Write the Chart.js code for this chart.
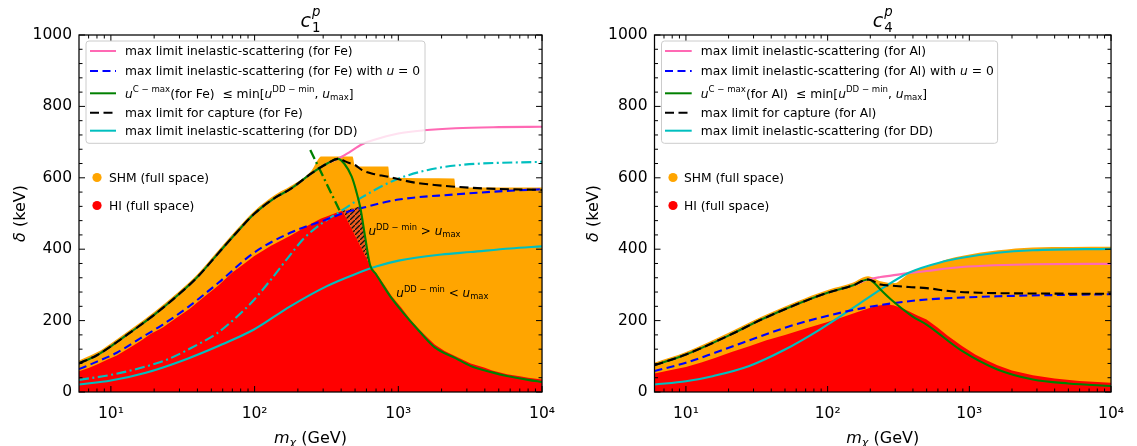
<!DOCTYPE html>
<html><head><meta charset="utf-8">
<script src="https://cdn.jsdelivr.net/npm/chart.js@4.4.1/dist/chart.umd.min.js"></script>
<style>
html,body{margin:0;padding:0;background:#fff;overflow:hidden}
#c1{position:absolute;left:0;top:0}
#c2{position:absolute;left:568px;top:0}
</style></head><body>
<canvas id="c1" width="568" height="446"></canvas>
<canvas id="c2" width="569" height="446"></canvas>
<script>
const FF = '"DejaVu Sans", sans-serif';

// ---------- axes ----------
const xTicks = [10, 100, 1000, 10000];
const yTicks = [0, 200, 400, 600, 800, 1000];
const xRange = [6, 10000];
const yRange = [0, 1000];
const yMinorStep = 40;
const xMinorMult = [2, 3, 4, 5, 6, 7, 8, 9];

// ---------- panel 1 : c1p (Fe) ----------  [m_chi (GeV), delta (keV)]
const fePink = [[6,80],[8,103],[10,128],[14,170],[20,216],[30,275],[40,322],[56,389],[75,447],[100,500],[140,545],[177,568],[250,613],[320,640],[380,653],[450,670],[560,694],[700,708],[1000,724],[1500,733],[2500,739],[5000,742],[10000,743]];
const feBlue = [[6,64],[8,85],[11,110],[16,150],[23,189],[35,240],[56,306],[99,390],[177,446],[316,483],[422,502],[564,516],[1005,539],[2400,553],[5000,562],[10000,568]];
const feGreen = [[6,80],[8,103],[10,128],[14,170],[20,216],[30,275],[40,322],[56,389],[75,447],[100,500],[140,545],[177,568],[250,613],[320,640],[380,653],[420,640],[474,603],[510,562],[545,515],[590,430],[636,356],[700,330],[765,305],[900,262],[1050,228],[1400,170],[1790,125],[2500,95],[3190,73],[4500,55],[5700,45],[8000,34],[10000,28]];
const feBlack = [[6,80],[8,103],[10,128],[14,170],[20,216],[30,275],[40,322],[56,389],[75,447],[100,500],[140,545],[177,568],[250,613],[320,640],[380,653],[450,642],[500,636],[557,622],[653,612],[851,603],[1052,594],[1374,585],[1790,580],[2466,575],[4000,570],[10000,566]];
const feCyan = [[6,21],[10,32],[17.5,54],[31,87],[56,129],[99,175],[177,240],[316,296],[500,330],[710,352],[1005,368],[2000,385],[3190,392],[6000,402],[10000,408]];
const feCyanDD = [[6,34],[10,48],[16,67],[25,92],[41,135],[55,165],[75,210],[100,260],[130,315],[170,375],[220,430],[300,475],[410,510],[557,545],[950,594],[1611,622],[2740,636],[10000,645]];
const feGreenDD = [[244,678],[394,505]];
const feSHM = [[6,88],[8,111],[10,136],[14,178],[20,224],[30,283],[40,330],[56,397],[75,455],[100,508],[140,553],[177,576],[250,621],[275,650],[290,660],[480,660],[500,632],[850,632],[870,600],[2450,598],[2500,573],[10000,573]];
const feHI = [[6,58],[7,67],[8,77],[9.5,91],[11,102],[13,120],[16,142],[19,163],[23,181],[28,205],[35,232],[44,265],[56,298],[70,335],[85,360],[99,380],[130,410],[177,438],[215,457],[251,473],[290,486],[327,494],[370,502],[410,508],[636,356],[680,340],[730,323],[800,300],[900,268],[1050,236],[1200,205],[1400,175],[1600,152],[1790,133],[2100,115],[2500,100],[3190,80],[4000,68],[4500,60],[5700,50],[7000,44],[8000,40],[10000,35]];
const feHatchTop = [[410,508],[480,514],[545,520],[590,430],[636,356]];
const feHatchBottom = [[410,508],[636,356]];

// ---------- panel 2 : c4p (Al) ----------
const alPink = [[6,75],[10,105],[20,158],[35,205],[60,245],[100,278],[150,298],[193,315],[236,322],[280,326],[374,333],[499,339],[888,350],[1500,355],[2806,358],[10000,359]];
const alBlue = [[6,59],[10,82],[16,110],[28,145],[50,180],[88,208],[157,231],[280,248],[499,259],[1578,268],[10000,274]];
const alGreen = [[6,75],[10,105],[20,158],[35,205],[60,245],[100,278],[150,298],[193,315],[210,308],[236,287],[280,259],[396,212],[499,189],[888,115],[1578,63],[2806,35],[5000,24],[10000,17]];
const alBlack = [[6,75],[10,105],[20,158],[35,205],[60,245],[100,278],[150,298],[193,315],[236,301],[280,298],[374,294],[499,291],[747,282],[1183,278],[2806,276],[10000,275]];
const alCyan = [[6,21],[10,30],[15.7,45],[28,73],[50,119],[88,175],[157,240],[236,287],[374,334],[666,366],[888,376],[1578,390],[2806,397],[10000,401]];
const alSHM = [[6,82],[10,112],[20,166],[35,213],[60,253],[100,286],[150,306],[193,324],[236,310],[300,305],[330,315],[400,340],[500,350],[700,372],[900,382],[1600,397],[2800,405],[10000,407]];
const alHI = [[6,52],[8,62],[10,70],[13,83],[16,95],[21,112],[28,128],[37,145],[50,160],[70,178],[100,196],[130,211],[157,222],[200,236],[230,242],[260,245],[290,243],[330,236],[374,226],[430,214],[499,203],[600,180],[700,158],[888,129],[1100,105],[1300,90],[1578,75],[2000,60],[2806,47],[4000,38],[6000,31],[10000,26]];

// ---------- colours ----------
const C = {pink:'#FF69B4', blue:'#0000FF', green:'#008000', black:'#000000', cyan:'#00BFBF', orange:'#FFA500', red:'#FF0000'};

// ---------- texts ----------
function legendTexts(el){
  return [
    [{t:'max limit inelastic-scattering (for '+el+')'}],
    [{t:'max limit inelastic-scattering (for '+el+') with '},{t:'u',i:1},{t:' = 0'}],
    [{t:'u',i:1},{t:'C − max',sup:1},{t:'(for '+el+')  ≤ min['},{t:'u',i:1},{t:'DD − min',sup:1},{t:', '},{t:'u',i:1},{t:'max',sub:1},{t:']'}],
    [{t:'max limit for capture (for '+el+')'}],
    [{t:'max limit inelastic-scattering (for DD)'}]
  ];
}
const legendStyles = [
  {color:C.pink, dash:[]},
  {color:C.blue, dash:[8,4.5]},
  {color:C.green, dash:[]},
  {color:C.black, dash:[9,4.5]},
  {color:C.cyan, dash:[]}
];
const scatterLabels = ['SHM (full space)', 'HI (full space)'];

// ---------- helpers ----------
const SUPD = {'0':'⁰','1':'¹','2':'²','3':'³','4':'⁴','5':'⁵'};
function expLabel(v){ const e = Math.round(Math.log10(v)); return '10' + String(e).split('').map(c=>SUPD[c]).join(''); }
function segFont(s, size){ const sz = (s.sup||s.sub) ? size*0.7 : size; return (s.i?'italic ':'') + sz + 'px ' + FF; }
function richWidth(ctx, segs, size){ let w=0; for(const s of segs){ ctx.font=segFont(s,size); w+=ctx.measureText(s.t).width; } return w; }
function drawRich(ctx, x, y, segs, size, align){
  const w = richWidth(ctx, segs, size);
  let cx = align==='center' ? x - w/2 : x;
  ctx.textAlign='left'; ctx.textBaseline='alphabetic'; ctx.fillStyle='#000';
  for(const s of segs){
    ctx.font = segFont(s,size);
    const dy = s.sup ? -size*0.42 : (s.sub ? size*0.2 : 0);
    ctx.fillText(s.t, cx, y+dy);
    cx += ctx.measureText(s.t).width;
  }
}
function drawTitle(ctx, cx, base, sub){
  const size=19, sm=size*0.7;
  ctx.font='italic '+size+'px '+FF; const wc=ctx.measureText('c').width;
  ctx.font='italic '+sm+'px '+FF; const wp=ctx.measureText('p').width;
  ctx.font=sm+'px '+FF; const ws=ctx.measureText(sub).width;
  const w = wc + 1 + Math.max(wp,ws);
  let x = cx - w/2;
  ctx.fillStyle='#000'; ctx.textAlign='left'; ctx.textBaseline='alphabetic';
  ctx.font='italic '+size+'px '+FF; ctx.fillText('c', x, base);
  x += wc + 1;
  ctx.font='italic '+sm+'px '+FF; ctx.fillText('p', x, base - size*0.58);
  ctx.font=sm+'px '+FF; ctx.fillText(sub, x, base + size*0.3);
}
function hatchPattern(ctx){
  const n=5;
  const c=document.createElement('canvas'); c.width=n; c.height=n;
  const g=c.getContext('2d');
  g.fillStyle='#EE5A1E'; g.fillRect(0,0,n,n);
  g.strokeStyle='#111'; g.lineWidth=1.3;
  g.beginPath(); g.moveTo(-1,n+1); g.lineTo(n+1,-1); g.moveTo(-n-1,1); g.lineTo(1,-n-1); g.moveTo(n-1,2*n+1); g.lineTo(2*n+1,n-1); g.stroke();
  return ctx.createPattern(c,'repeat');
}

function decorPlugin(P){
  return {id:'decor', afterDraw(chart){
    const ctx=chart.ctx, a=chart.chartArea, xs=chart.scales.x, ys=chart.scales.y;
    ctx.save();
    // inward ticks
    ctx.strokeStyle='#000'; ctx.lineWidth=1; ctx.setLineDash([]);
    ctx.beginPath();
    const tk=(x,y,dx,dy)=>{ctx.moveTo(x,y);ctx.lineTo(x+dx,y+dy);};
    for(const v of xTicks){ const p=xs.getPixelForValue(v); tk(p,a.bottom,0,-6); tk(p,a.top,0,6); }
    for(let e=0;e<5;e++) for(const m of xMinorMult){ const v=m*Math.pow(10,e); if(v<=xRange[0]||v>=xRange[1]) continue; const p=xs.getPixelForValue(v); tk(p,a.bottom,0,-3.5); tk(p,a.top,0,3.5); }
    for(const v of yTicks){ const p=ys.getPixelForValue(v); tk(a.left,p,6,0); tk(a.right,p,-6,0); }
    for(let v=yMinorStep; v<yRange[1]; v+=yMinorStep){ if(yTicks.includes(v)) continue; const p=ys.getPixelForValue(v); tk(a.left,p,3.5,0); tk(a.right,p,-3.5,0); }
    ctx.stroke();
    // frame
    ctx.lineWidth=1.25; ctx.strokeRect(a.left, a.top, a.right-a.left, a.bottom-a.top);

    // annotations
    for(const n of P.notes){ drawRich(ctx, xs.getPixelForValue(n.m), ys.getPixelForValue(n.v), n.segs, 12, 'left'); }

    // legend box
    const [bl,bt,br,bb]=P.box;
    ctx.beginPath();
    if(ctx.roundRect) ctx.roundRect(bl,bt,br-bl,bb-bt,3); else ctx.rect(bl,bt,br-bl,bb-bt);
    ctx.fillStyle='rgba(255,255,255,0.8)'; ctx.fill();
    ctx.strokeStyle='#cccccc'; ctx.lineWidth=1; ctx.stroke();
    const rows=[51,71,93.3,112.7,130.7];
    const texts=legendTexts(P.el);
    rows.forEach((y,j)=>{
      const st=legendStyles[j];
      ctx.beginPath(); ctx.setLineDash(st.dash); ctx.strokeStyle=st.color; ctx.lineWidth=2;
      ctx.moveTo(P.hx[0],y); ctx.lineTo(P.hx[1],y); ctx.stroke();
      ctx.setLineDash([]);
      drawRich(ctx, P.tx, y+4.3, texts[j], 12.3, 'left');
    });
    // scatter legend
    const sc=[C.orange, C.red], sy=[177.5,205.5];
    for(let j=0;j<2;j++){
      ctx.beginPath(); ctx.arc(P.mx, sy[j], 4.6, 0, Math.PI*2); ctx.fillStyle=sc[j]; ctx.fill();
      drawRich(ctx, P.mtx, sy[j]+4.3, [{t:scatterLabels[j]}], 12.3, 'left');
    }
    // title
    drawTitle(ctx, (a.left+a.right)/2, 26.7, P.sub);
    // axis labels
    drawRich(ctx, (a.left+a.right)/2, 443, [{t:'m',i:1},{t:'χ',i:1,sub:1},{t:' (GeV)'}], 16, 'center');
    ctx.save(); ctx.translate(P.ylx, (a.top+a.bottom)/2); ctx.rotate(-Math.PI/2);
    drawRich(ctx, 0, 16*0.31, [{t:'δ',i:1},{t:' (keV)'}], 16, 'center');
    ctx.restore();
    ctx.restore();
  }};
}

function build(id, P, S){
  const canvas=document.getElementById(id);
  const ctx=canvas.getContext('2d');
  const ds=[];
  const add=(data,o)=>ds.push(Object.assign({data:data.map(([x,y])=>({x,y})), pointRadius:0, pointHitRadius:0, borderWidth:2.1, fill:false, cubicInterpolationMode:'monotone'}, o));
  const noLine={borderWidth:0, borderColor:'rgba(0,0,0,0)', cubicInterpolationMode:'default', tension:0};
  add(S.shm, Object.assign({}, noLine, {backgroundColor:C.orange, fill:'origin', cubicInterpolationMode:'monotone'}));
  add(S.hi, Object.assign({}, noLine, {backgroundColor:C.red, fill:'origin'}));
  if(S.hatchTop){
    add(S.hatchTop, Object.assign({}, noLine, {backgroundColor:hatchPattern(ctx), fill:'+1'}));
    add(S.hatchBottom, Object.assign({}, noLine, {backgroundColor:'rgba(0,0,0,0)'}));
  }
  add(S.pink, {borderColor:C.pink});
  add(S.cyan, {borderColor:C.cyan});
  if(S.cyanDD) add(S.cyanDD, {borderColor:C.cyan, borderDash:[10,3.5,2,3.5]});
  add(S.blue, {borderColor:C.blue, borderDash:[8,4.5]});
  add(S.green, {borderColor:C.green});
  if(S.greenDD) add(S.greenDD, {borderColor:C.green, borderDash:[10,3.5,2,3.5], borderWidth:2.3});
  add(S.black, {borderColor:C.black, borderDash:[9,4.5]});
  ds.forEach((d,i)=>{ d.order = 100 - i; });

  return new Chart(ctx, {
    type:'line',
    data:{datasets:ds},
    options:{
      responsive:false, animation:false, devicePixelRatio:1, events:[],
      layout:{padding:{left:0, right:P.padR, top:35, bottom:0}},
      plugins:{legend:{display:false}, tooltip:{enabled:false}, title:{display:false}},
      scales:{
        x:{type:'logarithmic', min:xRange[0], max:xRange[1],
           afterBuildTicks(s){ s.ticks = xTicks.map(v=>({value:v})); },
           afterFit(s){ s.height = 54; },
           grid:{display:false, drawTicks:false}, border:{display:false},
           ticks:{autoSkip:false, maxRotation:0, minRotation:0, padding:13, color:'#000', font:{family:FF, size:15.5}, callback:(v)=>expLabel(v)}},
        y:{type:'linear', min:yRange[0], max:yRange[1],
           afterBuildTicks(s){ s.ticks = yTicks.map(v=>({value:v})); },
           afterFit(s){ s.width = P.yw; },
           grid:{display:false, drawTicks:false}, border:{display:false},
           ticks:{padding:7, color:'#000', font:{family:FF, size:15.5}, callback:(v)=>String(v)}}
      }
    },
    plugins:[decorPlugin(P)]
  });
}

const noteGT = [{t:'u',i:1},{t:'DD − min',sup:1},{t:' > '},{t:'u',i:1},{t:'max',sub:1}];
const noteLT = [{t:'u',i:1},{t:'DD − min',sup:1},{t:' < '},{t:'u',i:1},{t:'max',sub:1}];

build('c1', {padR:23.5, yw:79, el:'Fe', sub:'1', box:[86,41,425,143.3], hx:[90,116], tx:125, mx:97, mtx:109, ylx:20,
  notes:[{m:619, v:440, segs:noteGT},{m:968, v:266, segs:noteLT}]},
  {shm:feSHM, hi:feHI, hatchTop:feHatchTop, hatchBottom:feHatchBottom, pink:fePink, cyan:feCyan, cyanDD:feCyanDD, blue:feBlue, green:feGreen, greenDD:feGreenDD, black:feBlack});

build('c2', {padR:17, yw:86.5, el:'Al', sub:'4', box:[93.5,41,429.6,143.3], hx:[97,123.7], tx:132.7, mx:105, mtx:116, ylx:25, notes:[]},
  {shm:alSHM, hi:alHI, pink:alPink, cyan:alCyan, blue:alBlue, green:alGreen, black:alBlack});
</script>
</body></html>
